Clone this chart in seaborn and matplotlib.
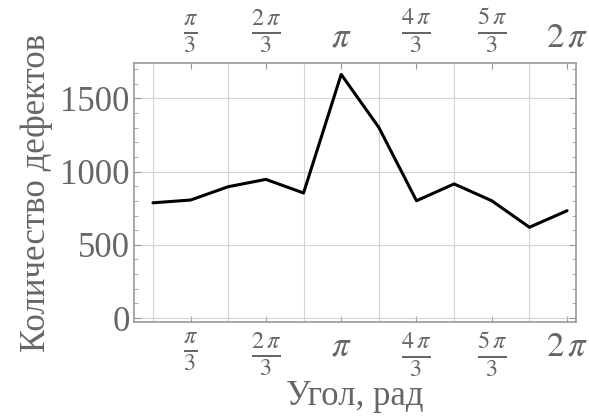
import numpy as np
import pandas as pd
import matplotlib
matplotlib.use("Agg")
import matplotlib.pyplot as plt
from matplotlib.ticker import MultipleLocator, FixedLocator
import seaborn as sns

# data: angle in multiples of pi/6, number of defects
angle_sixths = [1, 2, 3, 4, 5, 6, 7, 8, 9, 10, 11, 12]
defects = [787, 806, 897, 947, 854, 1664, 1302, 801, 916, 801, 620, 733]

tick_thirds = [1, 2, 3, 4, 5, 6]
tick_labels = [r'$\frac{\pi}{3}$', r'$\frac{2\,\pi}{3}$', r'$\pi$',
               r'$\frac{4\,\pi}{3}$', r'$\frac{5\,\pi}{3}$', r'$2\,\pi$']
grid_sixths = [1, 3, 5, 7, 9, 11]

df = pd.DataFrame({"angle": np.array(angle_sixths) * np.pi / 6,
                   "defects": defects})

sns.set_style("ticks")
plt.rcParams['font.family'] = ['Liberation Serif', 'DejaVu Serif']
plt.rcParams['mathtext.fontset'] = 'stix'

text_col = "#666666"
frame_col = "#999999"

fig = plt.figure(figsize=(5.89, 4.18), dpi=100)
ax = fig.add_axes([0.2275, 0.2297, 0.7505, 0.6196])

sns.lineplot(data=df, x="angle", y="defects", color="black", lw=2.2, ax=ax)

ax.set_xlim(0.26, 6.408)
ax.set_ylim(-27, 1742)

ax.xaxis.set_major_locator(FixedLocator(np.array(tick_thirds) * np.pi / 3))
ax.set_xticklabels(tick_labels)
ax.xaxis.set_minor_locator(FixedLocator(np.array(grid_sixths) * np.pi / 6))
ax.yaxis.set_major_locator(MultipleLocator(500))
ax.yaxis.set_minor_locator(MultipleLocator(100))

ax.grid(which="minor", axis="x", color="#d4d4d4", lw=0.8)
ax.grid(which="major", axis="y", color="#d4d4d4", lw=0.8)

ax.tick_params(which="both", direction="in", top=True, right=True,
               labeltop=True, labelbottom=True, color=frame_col,
               labelcolor=text_col, labelsize=25)
ax.tick_params(axis="x", which="minor", length=0)
ax.tick_params(axis="x", which="major", length=4, pad=6)
ax.tick_params(axis="y", which="major", length=5, pad=3)
ax.tick_params(axis="y", which="minor", length=3)
for s in ax.spines.values():
    s.set_color(frame_col)
    s.set_linewidth(1.2)

ax.set_xlabel("Угол, рад", fontsize=25, color=text_col, labelpad=1)
ax.set_ylabel("Количество дефектов", fontsize=25, color=text_col, labelpad=5)

plt.savefig("out.png", dpi=100)
